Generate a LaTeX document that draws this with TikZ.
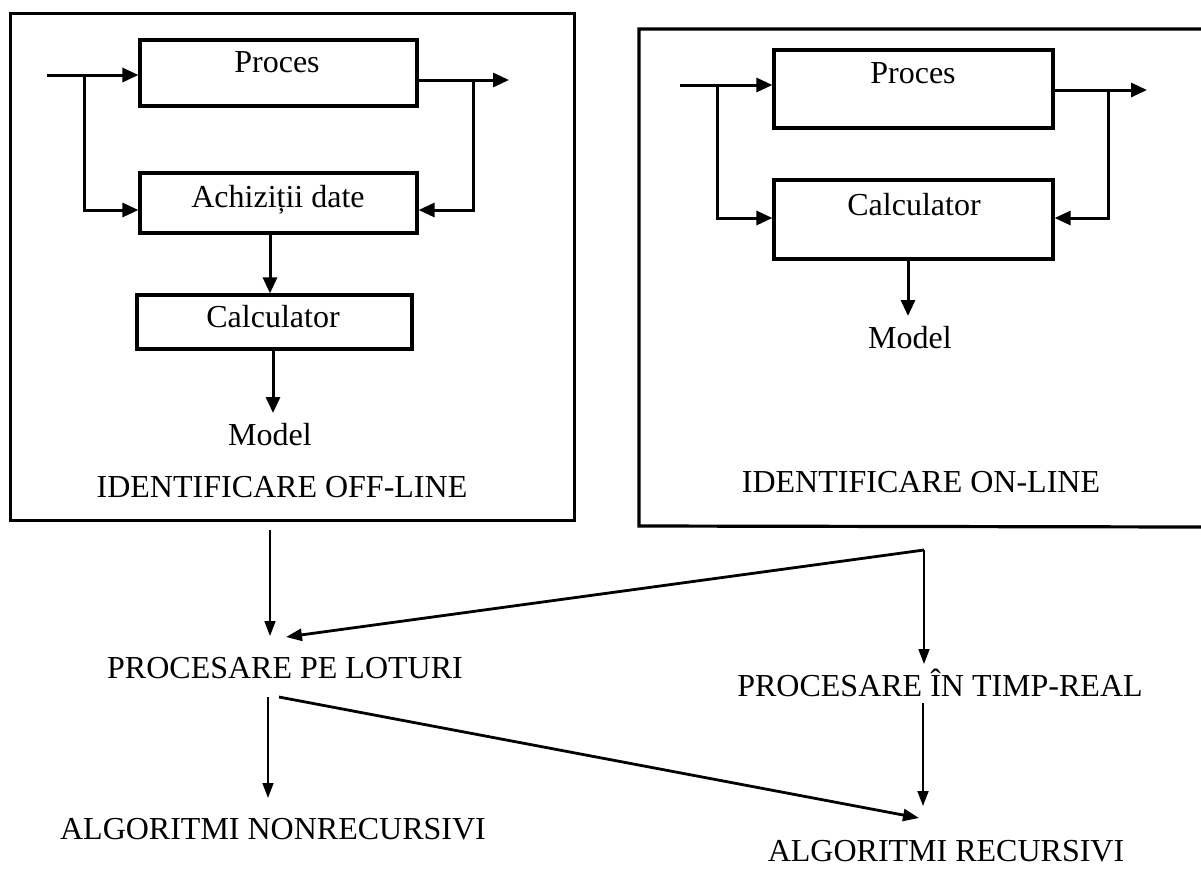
\documentclass[tikz,border=0pt]{standalone}
\usepackage{fontspec}
\setmainfont{Liberation Serif}
\usetikzlibrary{arrows.meta}
\begin{document}
\begin{tikzpicture}[x=1pt,y=-1pt,
  txt/.style={inner sep=0pt, anchor=base, font=\fontsize{32}{38}\selectfont},
  blk/.style={draw, line width=3.2pt, inner sep=0pt},
  frame/.style={draw, line width=3pt, inner sep=0pt},
  fat/.style={line width=3pt, -{Triangle[length=16pt,width=14pt]}},
  slant/.style={line width=2.8pt, -{Triangle[length=16pt,width=12pt]}},
  thin/.style={line width=1.7pt, -{Triangle[length=15pt,width=11pt]}}]
\path[use as bounding box, fill=white] (0,0) rectangle (1201,868);

% ---------- left frame (off-line) ----------
\node[frame, minimum width=564pt, minimum height=507pt] (offbox) at (292,266.5) {};
\node[blk, minimum width=277pt, minimum height=66pt] (procL) at (278.5,73) {};
\node[blk, minimum width=277pt, minimum height=60pt] (achL) at (278.5,203) {};
\node[blk, minimum width=275pt, minimum height=54pt] (calcL) at (274.5,322) {};
\node[txt] (tprocL) at (277,72) {Proces};
\node[txt] (tachL) at (278,207) {Achiziții date};
\node[txt] (tcalcL) at (273,327) {Calculator};
\node[txt] (modelL) at (270,445) {Model};
\node[txt] (offL) at (282,497) {IDENTIFICARE OFF-LINE};

\coordinate (inL) at (47,75);
\coordinate (brInL) at (84,75);
\coordinate (outL) at (509,80);
\coordinate (brOutL) at (473,80);
\draw[fat] (inL) -- ([yshift=-2pt]procL.west);
\draw[fat] (brInL) |- ([yshift=-7pt]achL.west);
\draw[fat] ([yshift=-7pt]procL.east) -- (outL);
\draw[fat] (brOutL) |- ([yshift=-7pt]achL.east);
\draw[fat] ([xshift=-8.5pt]achL.south) -- ([xshift=-4.5pt]calcL.north);
\coordinate (mLtip) at (273,413);
\draw[fat] ([xshift=-1.5pt]calcL.south) -- (mLtip);

% ---------- right frame (on-line) ----------
\coordinate (onTR) at (1201,29);
\coordinate (onTL) at (639,29);
\coordinate (onBL) at (639,526);
\coordinate (onBR) at (1201,527);
\draw[line width=3.2pt] (onTR) -- (onTL) -- (onBL) -- (onBR);
\node[blk, minimum width=279pt, minimum height=78pt] (procR) at (913.5,89) {};
\node[blk, minimum width=279pt, minimum height=79pt] (calcR) at (913.5,219.5) {};
\node[txt] (tprocR) at (913,83) {Proces};
\node[txt] (tcalcR) at (914,215) {Calculator};
\node[txt] (modelR) at (910,348) {Model};
\node[txt] (onR) at (921,492) {IDENTIFICARE ON-LINE};

\coordinate (inR) at (680,85);
\coordinate (brInR) at (717,85);
\coordinate (outR) at (1147,90);
\coordinate (brOutR) at (1108,90);
\draw[fat] (inR) -- ([yshift=4pt]procR.west);
\draw[fat] (brInR) |- ([yshift=1.5pt]calcR.west);
\draw[fat] ([yshift=-1pt]procR.east) -- (outR);
\draw[fat] (brOutR) |- ([yshift=1.5pt]calcR.east);
\coordinate (mRtip) at (908,316);
\draw[fat] ([xshift=-5.5pt]calcR.south) -- (mRtip);

% ---------- lower part ----------
\node[txt] (lot) at (285,678) {PROCESARE PE LOTURI};
\node[txt] (treal) at (940,696) {PROCESARE ÎN TIMP-REAL};
\node[txt] (nonrec) at (273,839) {ALGORITMI NONRECURSIVI};
\node[txt] (rec) at (946,861) {ALGORITMI RECURSIVI};

\coordinate (offOut) at (270,530);
\coordinate (lotIn) at (270,636);
\coordinate (J) at (924,550);
\coordinate (lotIn2) at (286,637);
\coordinate (realIn) at (924,664);
\coordinate (lotOut) at (268,697);
\coordinate (lotOut2) at (279,697);
\coordinate (nonIn) at (268,798);
\coordinate (recIn) at (919,818);
\coordinate (realOut) at (923,703);
\coordinate (recIn2) at (923,806);

\draw[thin] (offOut) -- (lotIn);
\draw[slant] (J) -- (lotIn2);
\draw[thin] (J) -- (realIn);
\draw[thin] (lotOut) -- (nonIn);
\draw[slant] (lotOut2) -- (recIn);
\draw[thin] (realOut) -- (recIn2);
\end{tikzpicture}
\end{document}
